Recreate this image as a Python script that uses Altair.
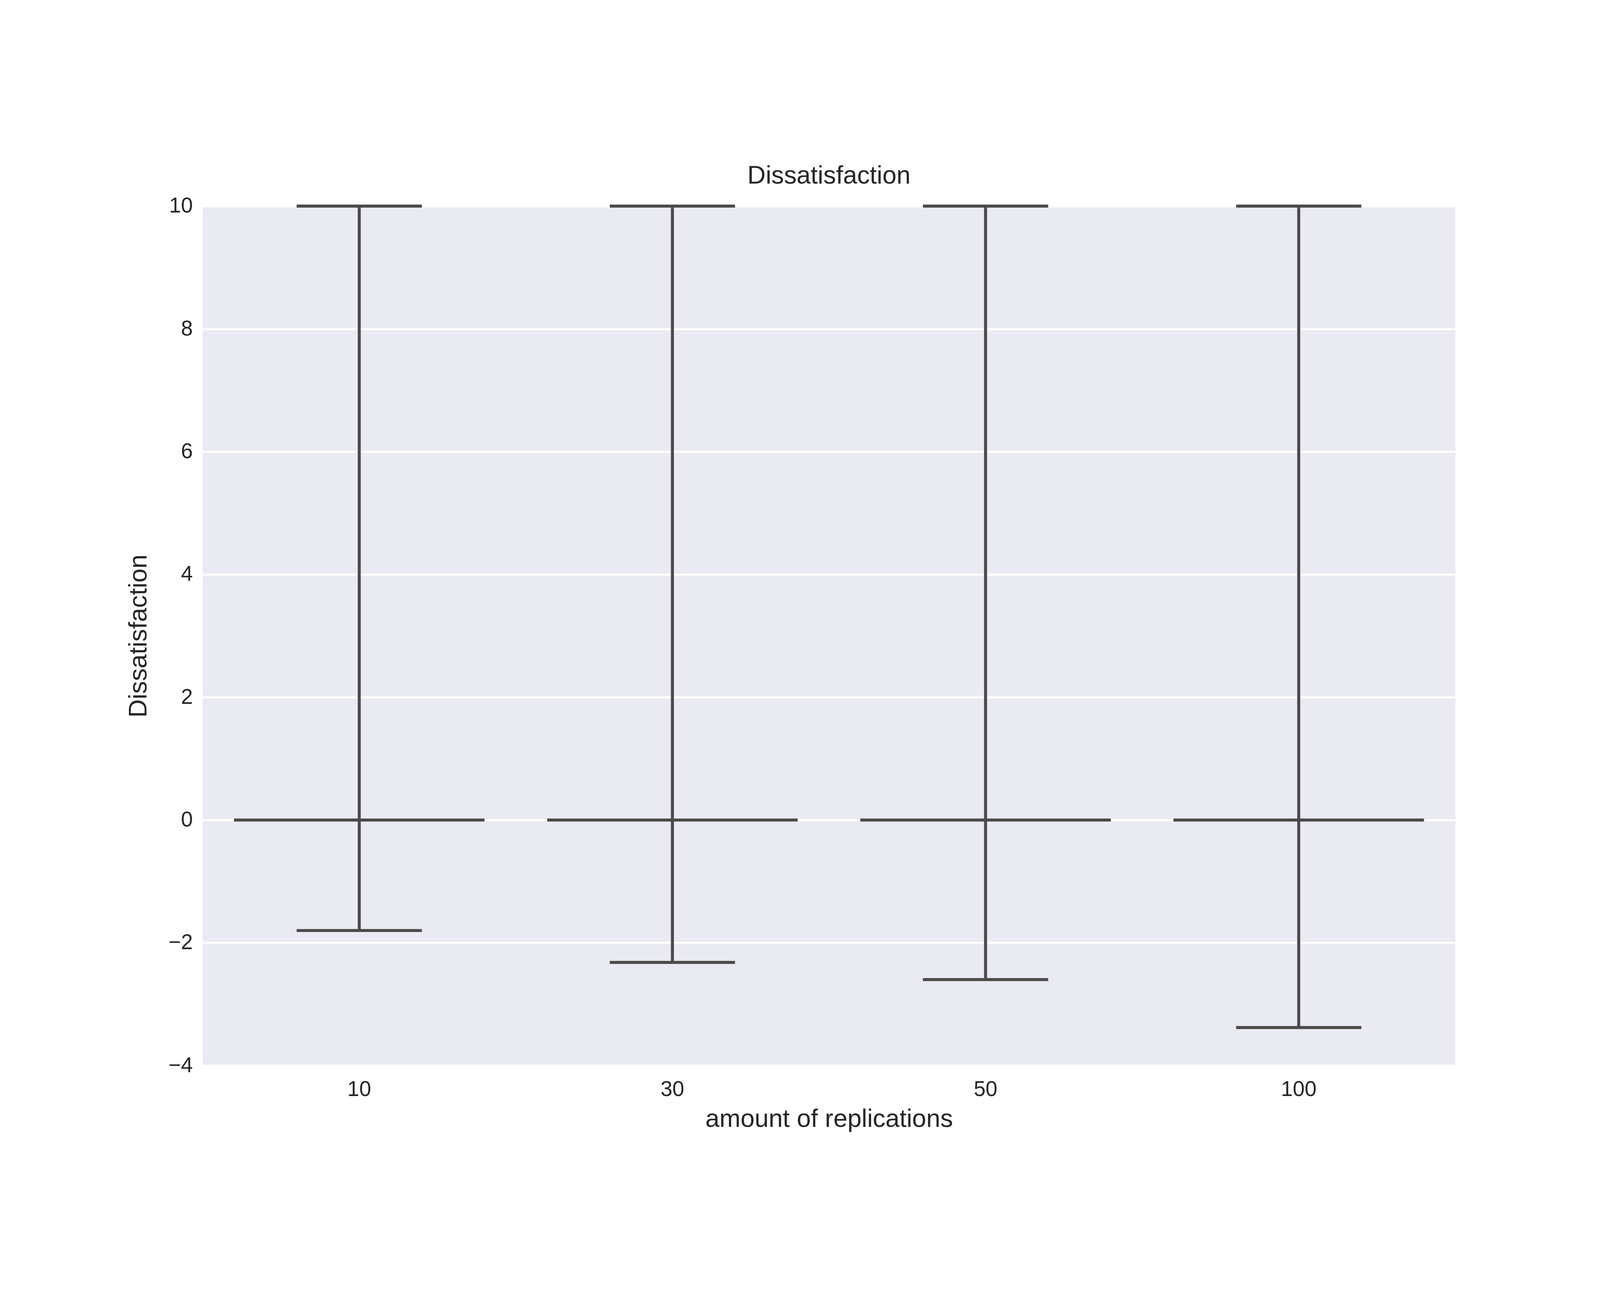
import pandas as pd
import altair as alt

groups = ["10", "30", "50", "100"]
lows = [-1.8, -2.32, -2.6, -3.38]
highs = [10, 10, 10, 10]
medians = [0, 0, 0, 0]

df = pd.DataFrame({"rep": groups, "low": lows, "high": highs, "median": medians})

x = alt.X("rep:N", sort=groups, title="amount of replications",
          axis=alt.Axis(labelAngle=0, domain=False, ticks=False, grid=False,
                        labelPadding=40, titlePadding=20))
y_scale = alt.Scale(domain=[-4, 10], nice=False, zero=False)
col = "#4a4a4a"

base = alt.Chart(df)
whisker = base.mark_rule(color=col, strokeWidth=9).encode(
    x=x,
    y=alt.Y("low:Q", scale=y_scale, title="Dissatisfaction",
            axis=alt.Axis(values=[-4, -2, 0, 2, 4, 6, 8, 10], format="d", domain=False, ticks=False,
                          gridColor="white", gridWidth=6, labelPadding=30, titlePadding=50)),
    y2="high:Q",
)
med = base.mark_tick(color=col, thickness=9, size=752, opacity=1).encode(x=x, y=alt.Y("median:Q", scale=y_scale))
cap_lo = base.mark_tick(color=col, thickness=9, size=376, opacity=1).encode(x=x, y=alt.Y("low:Q", scale=y_scale))
cap_hi = base.mark_tick(color=col, thickness=9, size=376, opacity=1).encode(x=x, y=alt.Y("high:Q", scale=y_scale))

chart = alt.layer(whisker, med, cap_lo, cap_hi).properties(
    width=3760, height=2580,
    autosize=alt.AutoSizeParams(type="none"),
    title=alt.Title("Dissatisfaction", fontSize=76, fontWeight="normal", color="#262626", offset=20),
    padding={"left": 599, "top": 326, "right": 425, "bottom": 378},
).configure_view(fill="#EAEAF2", stroke=None).configure_axis(
    labelFont="Liberation Sans", titleFont="Liberation Sans", labelFontSize=64, titleFontSize=76,
    labelColor="#262626", titleColor="#262626", titleFontWeight="normal",
).configure_title(font="Liberation Sans")

chart.save("out.html", embed_options={"renderer": "svg", "actions": False})
